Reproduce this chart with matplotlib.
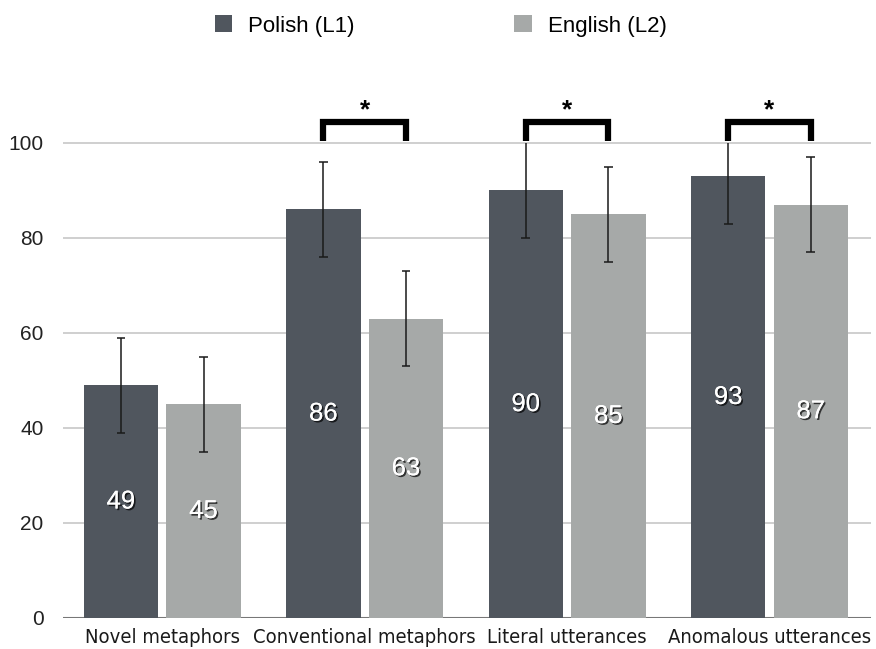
import numpy as np
import matplotlib.pyplot as plt
import matplotlib.patheffects as pe

categories = ['Novel metaphors', 'Conventional metaphors', 'Literal utterances', 'Anomalous utterances']
polish = [49, 86, 90, 93]
english = [45, 63, 85, 87]
polish_sd = [10, 10, 10, 10]
english_sd = [10, 10, 10, 10]
significant = [False, True, True, True]
series_names = ['Polish (L1)', 'English (L2)']

c_pol = '#50565e'
c_eng = '#a6a9a8'
ymax_err = 100  # error bars cut off at the top of the scale

fig = plt.figure(figsize=(8.76, 6.49), dpi=100)
ax = fig.add_axes([0.072, 0.048, 0.922, 0.805])

x = np.arange(len(categories))
w = 0.368
off = 0.204

b1 = ax.bar(x - off, polish, w, color=c_pol, zorder=2, label=series_names[0])
b2 = ax.bar(x + off, english, w, color=c_eng, zorder=2, label=series_names[1])

# error bars (clipped at 100, no cap where clipped)
for xs, vals, sd in [(x - off, polish, polish_sd), (x + off, english, english_sd)]:
    vals = np.array(vals, float)
    sd = np.array(sd, float)
    lo = vals - sd
    hi = np.minimum(vals + sd, ymax_err)
    ax.vlines(xs, lo, hi, color='#1a1a1a', lw=1.1, zorder=3)
    cw = 0.022
    ax.hlines(lo, xs - cw, xs + cw, color='#1a1a1a', lw=1.1, zorder=3)
    keep = vals + sd < ymax_err
    ax.hlines(hi[keep], xs[keep] - cw, xs[keep] + cw, color='#1a1a1a', lw=1.1, zorder=3)

# value labels inside bars
shadow = [pe.withSimplePatchShadow(offset=(1.2, -1.2), shadow_rgbFace='black', alpha=0.7), pe.Normal()]
for xs, vals in [(x - off, polish), (x + off, english)]:
    for xi, v in zip(xs, vals):
        ax.text(xi, v / 2, str(v), ha='center', va='center', color='white',
                fontsize=18.5, family='Liberation Sans', zorder=4, path_effects=shadow)

# significance brackets
for i, sig in enumerate(significant):
    if sig:
        ax.plot([i - off, i - off, i + off, i + off], [100.4, 104.3, 104.3, 100.4],
                color='black', lw=4.5, solid_joinstyle='miter', solid_capstyle='butt',
                clip_on=False, zorder=5)
        ax.text(i, 106.8, '*', ha='center', va='center', fontsize=19, fontweight='bold',
                family='Liberation Sans', clip_on=False)

ax.set_xlim(-0.49, 3.5)
ax.set_ylim(0, 110)
ax.set_yticks([0, 20, 40, 60, 80, 100])
ax.yaxis.grid(True, color='#cccccc', lw=1.3, zorder=0)
ax.set_axisbelow(True)
for s in ax.spines.values():
    s.set_visible(False)
ax.axhline(0, color='#777777', lw=1.5, zorder=1)
ax.tick_params(length=0, pad=14)
for t in ax.get_yticklabels():
    t.set_fontsize(15)
    t.set_family('Liberation Sans')
    t.set_color('#222222')
ax.set_xticks(x)
ax.set_xticklabels(categories, fontsize=14.5, family='DejaVu Sans', fontstretch='condensed',
                   color='#1a1a1a')
ax.tick_params(axis='x', pad=7)

fig.legend([b1, b2], series_names, loc='upper center', bbox_to_anchor=(0.503, 1.007), ncol=2,
           frameon=False, handlelength=0.8, handleheight=0.8, columnspacing=7.2, handletextpad=0.7,
           prop={'family': 'Liberation Sans', 'size': 16})

fig.savefig('out.png', dpi=100)
